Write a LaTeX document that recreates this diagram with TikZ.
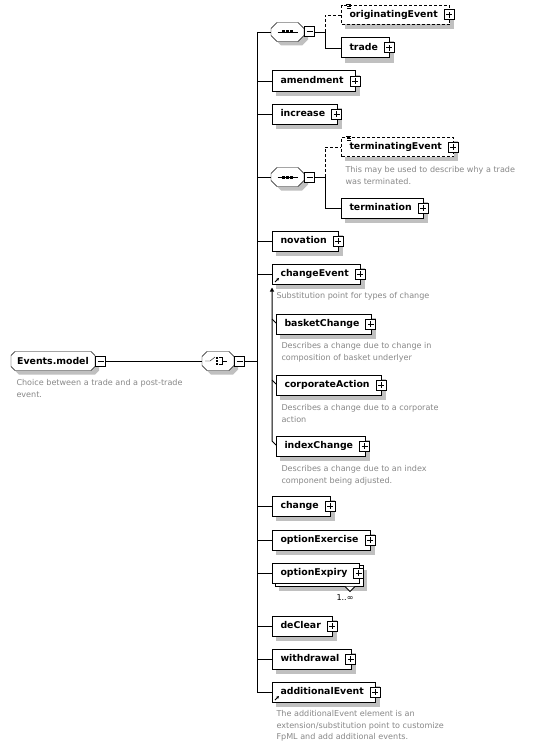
\documentclass[tikz,border=0pt]{standalone}
\usepackage{fontspec}
\setmainfont{DejaVu Sans}
\usetikzlibrary{arrows.meta,calc}
\definecolor{descgray}{RGB}{136,136,136}
\definecolor{shadowgray}{RGB}{192,192,192}
\pgfdeclarelayer{shadowlayer}
\pgfdeclarelayer{filllayer}
\pgfsetlayers{shadowlayer,filllayer,main}
\newcommand\octdraw[3]{\path[#3] ($(#1.north west)+(#2,0)$) -- ($(#1.north east)+(-#2,0)$) -- ($(#1.north east)+(0,#2)$) -- ($(#1.south east)+(0,-#2)$) -- ($(#1.south east)+(-#2,0)$) -- ($(#1.south west)+(#2,0)$) -- ($(#1.south west)+(0,-#2)$) -- ($(#1.north west)+(0,#2)$) -- cycle;}
\begin{document}
\begin{tikzpicture}[x=1bp,y=-1bp,line width=1bp,
 elem/.style={draw,fill=white,anchor=west,minimum height=20bp,inner xsep=8bp,inner ysep=0pt,text height=7pt,text depth=2pt,font=\fontsize{9.4}{11}\selectfont\bfseries,execute at end node={\hspace{4pt}}},
 optelem/.style={elem,dash pattern=on 3bp off 2bp,minimum height=19bp},
 octn/.style={draw=none,minimum height=19bp,inner sep=0pt,outer sep=0pt},
 desc/.style={anchor=north west,inner sep=0pt,align=left,text=descgray,font=\fontsize{8.1}{11.5}\selectfont},
 pmbox/.style={draw,fill=white,minimum size=10bp,inner sep=0pt,solid},
 plusbox/.style={pmbox,path picture={\draw[line width=1bp] ([xshift=2bp]path picture bounding box.west) -- ([xshift=-2bp]path picture bounding box.east) ([yshift=-2bp]path picture bounding box.north) -- ([yshift=2bp]path picture bounding box.south);}},
 minusbox/.style={pmbox,anchor=west,path picture={\draw[line width=1bp] ([xshift=2bp]path picture bounding box.west) -- ([xshift=-2bp]path picture bounding box.east);}},
 optconn/.style={dash pattern=on 3bp off 2bp},
 subline/.style={draw=black,line width=1bp},
 shadowshift/.style={transform canvas={xshift=4bp,yshift=-4bp}},
]
\useasboundingbox (0,0) rectangle (533,747);
% root and choice
\node[octn,minimum width=84bp,font=\fontsize{9.4}{11}\selectfont\bfseries] (em) at (53,361) {Events.model};
\node[minusbox] (emm) at (em.east) {};
\node[desc] at (16,379) {Choice between a trade and a post-trade\\event.};
\node[octn,minimum width=32bp] (chn) at (218,361) {};
\node[minusbox] (chm) at (chn.east) {};
\coordinate (bus) at ($(chm.east)+(12,0)$);
% children
\node[octn,minimum width=33bp] (s1) at (287.5,32) {};
\node[minusbox] (s1m) at (s1.east) {};
\coordinate (j1) at ($(s1m.east)+(10,0)$);
\node[optelem] (orig) at (341,15) {originatingEvent};
\node[elem] (trade) at (341,48) {trade};
\node[elem] (amend) at (272,81) {amendment};
\node[elem] (incr) at (272,114) {increase};
\node[octn,minimum width=33bp] (s2) at (287.5,177) {};
\node[minusbox] (s2m) at (s2.east) {};
\coordinate (j2) at ($(s2m.east)+(10,0)$);
\node[optelem] (term) at (341,147) {terminatingEvent};
\node[desc] at (345,166) {This may be used to describe why a trade\\was terminated.};
\node[elem] (termn) at (341,208) {termination};
\node[elem] (nov) at (272,241) {novation};
\node[elem] (chg) at (272,274) {changeEvent};
\node[desc] at (276,292) {Substitution point for types of change};
\node[elem] (bc) at (276,324) {basketChange};
\node[desc] at (281,342) {Describes a change due to change in\\composition of basket underlyer};
\node[elem] (ca) at (276,385) {corporateAction};
\node[desc] at (281,404) {Describes a change due to a corporate\\action};
\node[elem] (ic) at (276,446) {indexChange};
\node[desc] at (281,465) {Describes a change due to an index\\component being adjusted.};
\node[elem] (chng) at (272,506) {change};
\node[elem] (oex) at (272,540) {optionExercise};
\node[elem] (oexp) at (272,573) {optionExpiry};
\node[font=\fontsize{8.1}{10}\selectfont,inner sep=0pt] (occ) at (345,598) {1..∞};
\node[elem] (dec) at (272,626) {deClear};
\node[elem] (wd) at (272,659) {withdrawal};
\node[elem] (add) at (272,692) {additionalEvent};
\node[desc] at (276,710) {The additionalEvent element is an\\extension/substitution point to customize\\FpML and add additional events.};
% plus boxes
\foreach \n in {orig,trade,amend,incr,term,termn,nov,chg,bc,ca,ic,chng,oex,oexp,dec,wd,add}
  \node[plusbox] (\n-plus) at ([xshift=-1bp]\n.east) {};
% shadows
\begin{pgfonlayer}{shadowlayer}
 \fill[white] (0,0) rectangle (533,747);
 \foreach \n in {orig,trade,amend,incr,term,termn,nov,chg,bc,ca,ic,chng,oex,dec,wd,add}
   \fill[shadowgray,shadowshift] (\n.north west) rectangle (\n.south east);
 \fill[shadowgray] ($(oexp.north west)+(7,7)$) rectangle ($(oexp.south east)+(7,7)$);
 \octdraw{em}{4}{fill=shadowgray,shadowshift}
 \octdraw{chn}{5}{fill=shadowgray,shadowshift}
 \octdraw{s1}{6}{fill=shadowgray,shadowshift}
 \octdraw{s2}{6}{fill=shadowgray,shadowshift}
\end{pgfonlayer}
\begin{pgfonlayer}{filllayer}
 \octdraw{em}{4}{draw,fill=white}
 \octdraw{chn}{5}{draw,fill=white}
 \octdraw{s1}{6}{draw,fill=white}
 \octdraw{s2}{6}{draw,fill=white}
 \draw[fill=white] ($(oexp.north west)+(3,3)$) rectangle ($(oexp.south east)+(3,3)$);
\end{pgfonlayer}
% connectors
\draw (emm.east) -- (chn.west);
\draw (chm.east) -- (bus);
\draw (bus |- s1.west) -- (bus |- add.west);
\foreach \n in {s1,amend,incr,s2,nov,chg,chng,oex,oexp,dec,wd,add}
  \draw (bus |- \n.west) -- (\n.west);
\draw (s1m.east) -- (j1);
\draw[optconn] (j1) |- (orig.west);
\draw (j1) |- (trade.west);
\draw (s2m.east) -- (j2);
\draw[optconn] (j2) |- (term.west);
\draw (j2) |- (termn.west);
% substitution group
\coordinate (subtop) at ($(chg.south west)+(0,3)$);
\draw[subline,{Triangle[length=4bp,width=4bp]}-] (subtop) -- ($(ic.west)+(-4,-5)$) -- ($(ic.west)+(0,-1)$);
\foreach \n in {bc,ca}
  \draw[subline] ($(\n.west)+(-4,-5)$) -- ($(\n.west)+(0,-1)$);
\foreach \n in {chg,add}
  \draw[line width=0.9bp,-{Triangle[length=2.5bp,width=2.5bp]}] ($(\n.south west)+(3,-2.5)$) -- ++(4,-4);
% optional markers
\foreach \n in {orig,term}{
  \draw[line width=0.6bp] ($(\n.north west)+(5,-1)$) -- ++(5,0);
  \draw[line width=0.6bp] ($(\n.north west)+(6,1)$) -- ++(4,0);
  \draw[line width=0.6bp] ($(\n.north west)+(6,3)$) -- ++(4,0);
}
% occurrence notch
\draw[fill=white,line width=0.8bp] ($(oexp.south east)+(-15,3)$) -- ++(5,5) -- ++(5,-5);
% sequence icons
\foreach \n in {s1,s2}{
  \draw ($(\n)+(-10,0)$) -- ($(\n)+(10,0)$);
  \foreach \d in {-4,0,4}
    \fill ($(\n)+(\d,0)+(-1.5,-1.5)$) rectangle ++(3,3);
}
% choice icon
\draw ($(chn)+(-13,0)$) -- ($(chn)+(-8,0)$) -- ($(chn)+(-3,-4)$);
\foreach \d in {-3,0,3}
  \fill ($(chn)+(-1.75,\d)+(0,-0.75)$) rectangle ++(1.5,1.5);
\draw ($(chn)+(1,-3.5)$) -- ($(chn)+(4,-3.5)$) -- ($(chn)+(4,3.5)$) -- ($(chn)+(1,3.5)$);
\draw ($(chn)+(4,0)$) -- ($(chn)+(9,0)$);
\end{tikzpicture}
\end{document}
